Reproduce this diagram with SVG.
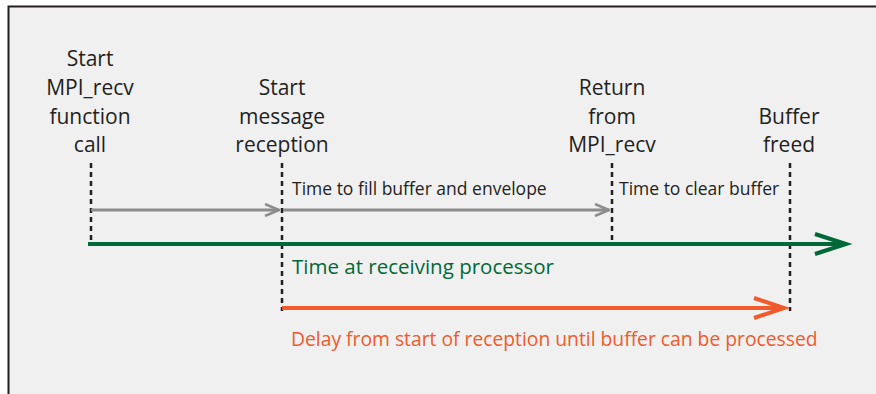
<svg xmlns="http://www.w3.org/2000/svg" width="876" height="394" viewBox="0 0 876 394">
  <style>
    .frame { fill: #f0f0f0; }
    .edge { stroke: #231f20; stroke-width: 2; fill: none; }
    .label { font-family: "Open Sans", "Liberation Sans", sans-serif; font-size: 21px; fill: #231f20; text-anchor: middle; }
    .note { font-family: "Open Sans", "Liberation Sans", sans-serif; font-size: 17.5px; fill: #231f20; }
    .big { font-family: "Open Sans", "Liberation Sans", sans-serif; }
    .tick { stroke: #231f20; stroke-width: 2.5; stroke-dasharray: 5 4; fill: none; }
    .gray { stroke: #8c8c8c; stroke-width: 3; fill: none; }
    .green { stroke: #006838; stroke-width: 4; fill: none; }
    .orange { stroke: #f15a2b; stroke-width: 4; fill: none; }
  </style>
  <defs>
    <marker id="headGray" markerUnits="userSpaceOnUse" viewBox="0 0 16 14" refX="15" refY="7" markerWidth="16" markerHeight="14" orient="auto">
      <path d="M1,1 L15,7 L1,13" fill="none" stroke="#8c8c8c" stroke-width="2.5"/>
    </marker>
  </defs>

  <!-- background panel with top and left edges -->
  <rect class="frame" x="8" y="6" width="868" height="388"/>
  <path class="edge" d="M8.5,394 V6.5 H876"/>

  <!-- event markers -->
  <g id="start-call">
    <text class="label" x="90" y="66">Start</text>
    <text class="label" x="90" y="95">MPI_recv</text>
    <text class="label" x="90" y="124">function</text>
    <text class="label" x="90" y="152">call</text>
  </g>
  <g id="start-reception">
    <text class="label" x="282" y="95">Start</text>
    <text class="label" x="282" y="124">message</text>
    <text class="label" x="282" y="152">reception</text>
  </g>
  <g id="return-recv">
    <text class="label" x="612" y="95">Return</text>
    <text class="label" x="612" y="124">from</text>
    <text class="label" x="612" y="152">MPI_recv</text>
  </g>
  <g id="buffer-freed">
    <text class="label" x="789" y="124">Buffer</text>
    <text class="label" x="789" y="152">freed</text>
  </g>

  <g id="connectors">
    <!-- dotted time ticks -->
    <line class="tick" x1="91" y1="163" x2="91" y2="241"/>
    <line class="tick" x1="282" y1="163" x2="282" y2="311"/>
    <line class="tick" x1="612" y1="163" x2="612" y2="241"/>
    <line class="tick" x1="790" y1="163" x2="790" y2="311"/>

    <!-- interval arrows -->
    <line class="gray" x1="91" y1="210" x2="279" y2="210" marker-end="url(#headGray)"/>
    <line class="gray" x1="283" y1="210" x2="609" y2="210" marker-end="url(#headGray)"/>

    <!-- time axis -->
    <line class="green" x1="88" y1="244" x2="845" y2="244"/>
    <path class="green" d="M815,234 L846,244 L815,254"/>

    <!-- delay arrow -->
    <line class="orange" x1="282" y1="308" x2="783" y2="308"/>
    <path class="orange" d="M754,298 L784,308 L754,318"/>
  </g>

  <g id="interval-labels">
    <text class="note" x="292" y="195">Time to fill buffer and envelope</text>
    <text class="note" x="619" y="195">Time to clear buffer</text>
    <text class="big" x="292" y="274" font-size="20.5" fill="#006838">Time at receiving processor</text>
    <text class="big" x="291" y="346" font-size="19.3" fill="#f15a2b">Delay from start of reception until buffer can be processed</text>
  </g>
</svg>
